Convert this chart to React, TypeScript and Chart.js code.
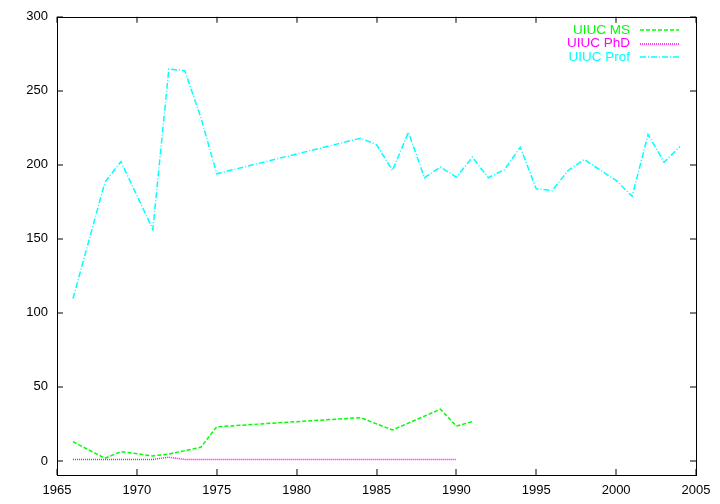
import React, { useEffect, useRef } from "react";
import { Chart, registerables } from "chart.js";

Chart.register(...registerables);

const xTicks = [1965, 1970, 1975, 1980, 1985, 1990, 1995, 2000, 2005];
const yTicks = [0, 50, 100, 150, 200, 250, 300];

const msYears = [1966, 1968, 1969, 1971, 1972, 1974, 1975, 1984, 1986, 1989, 1990, 1991];
const msValues = [13, 1.8, 6.3, 3.4, 4.7, 9.2, 23.1, 29.2, 20.9, 34.9, 23.6, 26.5];

const phdYears = [1966, 1968, 1969, 1971, 1972, 1973, 1974, 1975, 1984, 1986, 1989, 1990];
const phdValues = [1, 1, 1, 1, 2.5, 1, 1, 1, 1, 1, 1, 1];

const profYears = [
  1966, 1968, 1969, 1971, 1972, 1973, 1974, 1975, 1984, 1985, 1986, 1987, 1988, 1989,
  1990, 1991, 1992, 1993, 1994, 1995, 1996, 1997, 1998, 2000, 2001, 2002, 2003, 2004,
];
const profValues = [
  109.7, 188.3, 202.2, 156.4, 264.7, 263.6, 232.1, 194, 218, 213.7, 196.2, 222, 191.3, 198.4,
  191.7, 205.2, 191.3, 196.7, 211.9, 183.8, 182.7, 196.2, 203.6, 189.5, 178.7, 220.5, 201.8, 212.4,
];

const seriesLabels = ["UIUC MS", "UIUC PhD", "UIUC Prof"];
const seriesColors = ["#00ff00", "#ff00ff", "#00ffff"];
const seriesDash = [[4, 2], [1, 1], [6, 2, 1, 2]];

const FONT = "'Liberation Sans', Arial, Helvetica, sans-serif";

const toPoints = (xs: number[], ys: number[]) => xs.map((x, i) => ({ x, y: ys[i] }));

const framePlugin = {
  id: "gnuFrame",
  afterDraw(chart: any) {
    const { ctx, chartArea } = chart;
    const { left, right, top, bottom } = chartArea;
    const xs = chart.scales.x;
    const ys = chart.scales.y;
    ctx.save();
    ctx.setLineDash([]);
    ctx.strokeStyle = "#000";
    ctx.lineWidth = 1;
    const tl = 6;
    ctx.beginPath();
    xTicks.forEach((t) => {
      const px = Math.round(xs.getPixelForValue(t));
      ctx.moveTo(px, bottom);
      ctx.lineTo(px, bottom - tl);
      ctx.moveTo(px, top);
      ctx.lineTo(px, top + tl);
    });
    yTicks.forEach((t) => {
      const py = Math.round(ys.getPixelForValue(t));
      ctx.moveTo(left, py);
      ctx.lineTo(left + tl, py);
      ctx.moveTo(right, py);
      ctx.lineTo(right - tl, py);
    });
    ctx.stroke();
    ctx.strokeRect(Math.round(left) + 0.5, Math.round(top) + 0.5, Math.round(right - left), Math.round(bottom - top));
    ctx.font = `13.5px ${FONT}`;
    ctx.textAlign = "right";
    ctx.textBaseline = "middle";
    chart.data.datasets.forEach((ds: any, i: number) => {
      const y = 30 + i * 13.5;
      ctx.fillStyle = ds.borderColor;
      ctx.fillText(ds.label, 630, y);
      ctx.beginPath();
      ctx.strokeStyle = ds.borderColor;
      ctx.lineWidth = 1.5;
      ctx.setLineDash(ds.borderDash);
      ctx.moveTo(640, Math.round(y));
      ctx.lineTo(679, Math.round(y));
      ctx.stroke();
    });
    ctx.restore();
  },
};

export default function App() {
  const ref = useRef<HTMLCanvasElement | null>(null);
  useEffect(() => {
    document.body.style.margin = "0";
    const canvas = ref.current!;
    const allData = [
      toPoints(msYears, msValues),
      toPoints(phdYears, phdValues),
      toPoints(profYears, profValues),
    ];
    const chart = new Chart(canvas, {
      type: "line",
      data: {
        datasets: allData.map((d, i) => ({
          label: seriesLabels[i],
          data: d,
          borderColor: seriesColors[i],
          backgroundColor: seriesColors[i],
          borderDash: seriesDash[i],
          borderWidth: 1.5,
          pointRadius: 0,
          tension: 0,
          fill: false,
        })),
      },
      options: {
        animation: false,
        responsive: false,
        devicePixelRatio: 1,
        layout: { padding: { top: 16, right: 24, left: 0, bottom: 0 } },
        plugins: { legend: { display: false }, tooltip: { enabled: false } },
        scales: {
          x: {
            type: "linear",
            min: 1965,
            max: 2005,
            afterBuildTicks: (s: any) => {
              s.ticks = xTicks.map((v) => ({ value: v }));
            },
            afterFit: (s: any) => {
              s.height = 29;
            },
            grid: { display: false, drawTicks: false },
            border: { display: false },
            ticks: {
              padding: 8,
              color: "#000",
              font: { family: FONT, size: 13 },
              maxRotation: 0,
              autoSkip: false,
              callback: (v: any) => String(v),
            },
          },
          y: {
            type: "linear",
            min: -9.5,
            max: 300,
            afterBuildTicks: (s: any) => {
              s.ticks = yTicks.map((v) => ({ value: v }));
            },
            afterFit: (s: any) => {
              s.width = 57;
            },
            grid: { display: false, drawTicks: false },
            border: { display: false },
            ticks: {
              padding: 9,
              color: "#000",
              font: { family: FONT, size: 13 },
              autoSkip: false,
              callback: (v: any) => String(v),
            },
          },
        },
      },
      plugins: [framePlugin],
    });
    return () => chart.destroy();
  }, []);
  return (
    <div style={{ position: "fixed", left: 0, top: 0, width: 720, height: 504, background: "#fff" }}>
      <canvas ref={ref} width={720} height={504} />
    </div>
  );
}
